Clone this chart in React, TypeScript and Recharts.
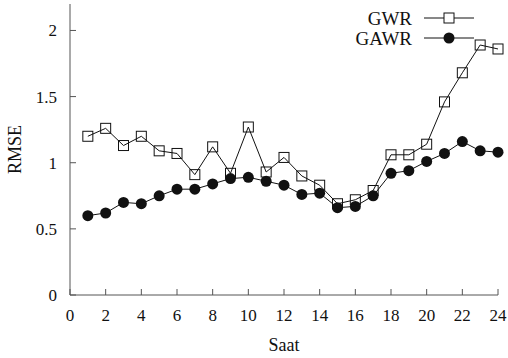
import React from 'react';
import { LineChart, Line, XAxis, YAxis } from 'recharts';

const hours = [1, 2, 3, 4, 5, 6, 7, 8, 9, 10, 11, 12, 13, 14, 15, 16, 17, 18, 19, 20, 21, 22, 23, 24];
const gwr = [1.2, 1.26, 1.13, 1.2, 1.09, 1.07, 0.91, 1.12, 0.92, 1.27, 0.93, 1.04, 0.9, 0.83, 0.69, 0.72, 0.79, 1.06, 1.06, 1.14, 1.46, 1.68, 1.89, 1.86];
const gawr = [0.6, 0.62, 0.7, 0.69, 0.75, 0.8, 0.8, 0.84, 0.88, 0.89, 0.86, 0.83, 0.76, 0.77, 0.66, 0.67, 0.75, 0.92, 0.94, 1.01, 1.07, 1.16, 1.09, 1.08];
const xTicks = [0, 2, 4, 6, 8, 10, 12, 14, 16, 18, 20, 22, 24];
const yTicks = [0, 0.5, 1, 1.5, 2];
const seriesNames = ['GWR', 'GAWR'];

const data = hours.map((h, i) => ({ h, gwr: gwr[i], gawr: gawr[i] }));

const FONT = "'Times New Roman', Times, 'Liberation Serif', serif";
const AXIS = '#555';
const INK = '#111';
const txt = { fontFamily: FONT };

const BottomTick = (p: any) => (
    <g>
        <line x1={p.x} x2={p.x} y1={p.y} y2={p.y - 6} stroke={AXIS} />
        <text x={p.x} y={p.y + 26} textAnchor="middle" fontSize={17} style={txt} fill={INK}>
            {p.payload.value}
        </text>
    </g>
);

const TopTick = (p: any) => <line x1={p.x} x2={p.x} y1={p.y} y2={p.y + 6} stroke={AXIS} />;

const LeftTick = (p: any) => (
    <g>
        <line x1={p.x} x2={p.x + 6} y1={p.y} y2={p.y} stroke={AXIS} />
        <text x={p.x - 13} y={p.y + 6} textAnchor="end" fontSize={17} style={txt} fill={INK}>
            {p.payload.value}
        </text>
    </g>
);

const RightTick = (p: any) => <line x1={p.x} x2={p.x - 6} y1={p.y} y2={p.y} stroke={AXIS} />;

const SquareDot = (p: any) => (
    <rect key={p.index} x={p.cx - 5} y={p.cy - 5} width={10} height={10} fill="none" stroke={INK} strokeWidth={1} />
);

const CircleDot = (p: any) => <circle key={p.index} cx={p.cx} cy={p.cy} r={5.5} fill={INK} />;

const LegendBox = () => (
    <svg width={200} height={50} style={{ position: 'absolute', left: 290, top: 6 }}>
        {seriesNames.map((name, i) => {
            const y = 12 + i * 20;
            return (
                <g key={name}>
                    <text x={122} y={y + 7} textAnchor="end" fontSize={19} style={txt} fill={INK}>
                        {name}
                    </text>
                    <line x1={134} x2={184} y1={y} y2={y} stroke={INK} />
                    {i === 1 ? (
                        <circle cx={159} cy={y} r={5.5} fill={INK} />
                    ) : (
                        <rect x={154} y={y - 5} width={10} height={10} fill="#fff" stroke={INK} />
                    )}
                </g>
            );
        })}
    </svg>
);

export default function App() {
    return (
        <div style={{ position: 'absolute', left: 0, top: 0, width: 508, height: 358, background: '#fff', fontFamily: FONT }}>
            <LineChart width={508} height={358} data={data} margin={{ top: 4, right: 10, left: 0, bottom: 0 }} style={txt}>
                <XAxis
                    dataKey="h"
                    type="number"
                    domain={[0, 24]}
                    ticks={xTicks}
                    tickSize={0}
                    tickMargin={0}
                    tickLine={false}
                    tick={BottomTick}
                    height={63}
                    stroke={AXIS}
                    label={{ value: 'Saat', position: 'insideBottom', offset: 7, fontSize: 18, style: txt, fill: INK }}
                />
                <XAxis
                    xAxisId="top"
                    orientation="top"
                    dataKey="h"
                    type="number"
                    domain={[0, 24]}
                    ticks={xTicks}
                    tickSize={0}
                    tickMargin={0}
                    tickLine={false}
                    tick={TopTick}
                    height={0}
                    stroke={AXIS}
                />
                <YAxis
                    type="number"
                    domain={[0, 2.2]}
                    ticks={yTicks}
                    tickSize={0}
                    tickMargin={0}
                    tickLine={false}
                    tick={LeftTick}
                    width={70}
                    stroke={AXIS}
                    label={{ value: 'RMSE', angle: -90, position: 'insideLeft', offset: 15, fontSize: 18, fill: INK, style: { ...txt, textAnchor: 'middle' } }}
                />
                <YAxis
                    yAxisId="right"
                    orientation="right"
                    type="number"
                    domain={[0, 2.2]}
                    ticks={yTicks}
                    tickSize={0}
                    tickMargin={0}
                    tickLine={false}
                    tick={RightTick}
                    width={0}
                    stroke={AXIS}
                />
                <Line dataKey="gwr" name="GWR" stroke={INK} strokeWidth={1} dot={SquareDot} isAnimationActive={false} />
                <Line dataKey="gawr" name="GAWR" stroke={INK} strokeWidth={1} dot={CircleDot} isAnimationActive={false} />
            </LineChart>
            <LegendBox />
        </div>
    );
}
